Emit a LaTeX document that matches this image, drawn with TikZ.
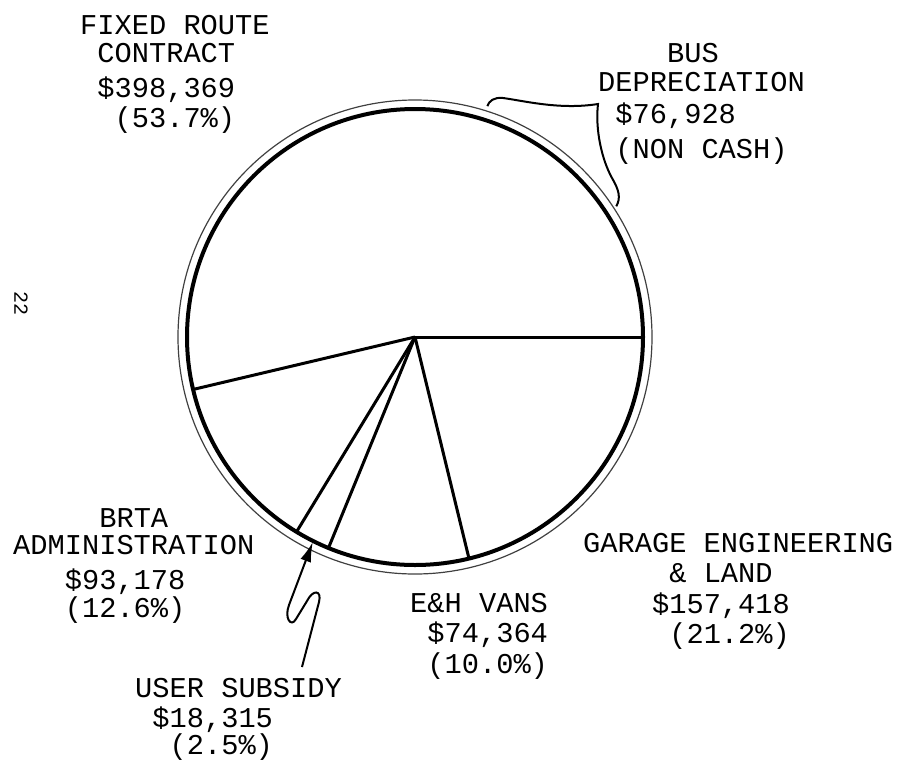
\documentclass[tikz,border=0pt]{standalone}
\usepackage{fontspec}
\setmonofont{Liberation Mono}
\usetikzlibrary{arrows.meta}
\tikzset{
  lbl/.style={font=\ttfamily\fontsize{28.7}{30.5}\selectfont,align=left,anchor=north west,inner sep=0pt},
  rim/.style={line width=4pt},
  cut/.style={line width=3pt},
  ring/.style={line width=1.2pt,black!75},
  callout/.style={line width=2pt},
}
\newcommand\ind[1]{\hphantom{#1}}
\begin{document}
\begin{tikzpicture}[x=1pt,y=1pt]
\useasboundingbox (0,0) rectangle (897,-761);
\coordinate (o) at (415,-337);
% pie and outer ring
\draw[ring] (o) circle (237);
\draw[rim] (o) circle (228);
\foreach \a in {0,193.3,238.7,247.7,283.7}
  \draw[cut] (o) -- +(\a:228);

% labels
\node[lbl] (fixed) at (80,-15) {FIXED ROUTE\\[-2pt]\ind{0}CONTRACT\\[4pt]\ind{0}\$398,369\\\ind{00}(53.7\%)};
\node[lbl] (bus) at (598,-43) {\ind{0000}BUS\\[-1pt]DEPRECIATION\\[1pt]\ind{0}\$76,928\\[5pt]\ind{0}(NON CASH)};
\node[lbl] (brta) at (13,-508) {\ind{00000}BRTA\\[-3pt]ADMINISTRATION\\[4pt]\ind{000}\$93,178\\[-2pt]\ind{000}(12.6\%)};
\node[lbl] (garage) at (583,-533) {GARAGE ENGINEERING\\\ind{00000}\& LAND\\\ind{0000}\$157,418\\\ind{00000}(21.2\%)};
\node[lbl] (vans) at (410,-593) {E\&H VANS\\\ind{0}\$74,364\\\ind{0}(10.0\%)};
\node[lbl] (usub) at (135,-678) {USER SUBSIDY\\\ind{0}\$18,315\\[-4pt]\ind{00}(2.5\%)};
\node[font=\ttfamily\fontsize{20}{20}\selectfont,rotate=-90] (pgno) at (21,-303) {22};

% bus depreciation callout on the ring
\path (o) ++(72.6:242) coordinate (busA);
\path (o) ++(33:240) coordinate (busB);
\draw[callout] (busA) .. controls (489,-101) and (494,-97) .. (503,-98)
  .. controls (525,-101) and (560,-110) .. (598,-104)
  .. controls (595,-130) and (602,-160) .. (612,-178)
  .. controls (619,-190) and (621,-198) .. (busB);

% user subsidy arrow
\path (o) ++(243.5:229) coordinate (subTip);
\coordinate (subTail) at (302,-667);
\draw[callout,-{Latex[length=20pt,width=11pt]}] (subTail) -- (319,-602)
  .. controls (322,-590) and (313,-589) .. (307,-601) -- (296,-619)
  .. controls (291,-628) and (284,-618) .. (289,-605) -- (subTip);
\end{tikzpicture}
\end{document}
